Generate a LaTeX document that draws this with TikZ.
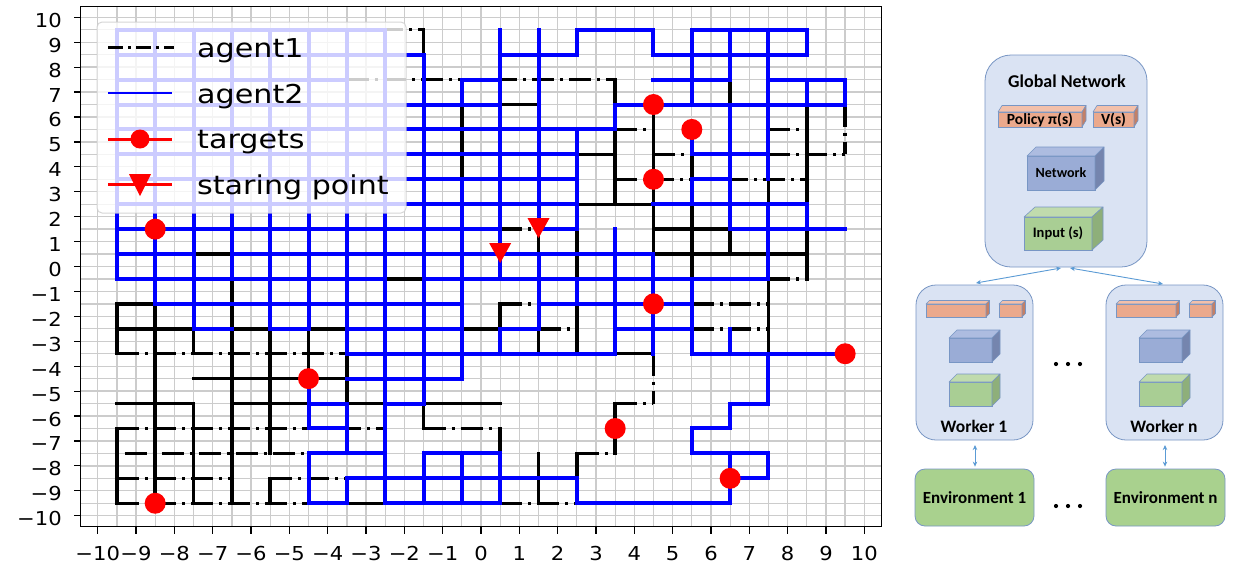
\documentclass[tikz,border=0pt]{standalone}
\usepackage{fontspec}
\setmainfont{Carlito}
\newfontfamily\plotfont{DejaVu Sans}[FakeStretch=1.1]
\newfontfamily\legfont{DejaVu Sans}[FakeStretch=1.16]
\usetikzlibrary{arrows.meta}
\definecolor{gridc}{RGB}{204,204,204}
\definecolor{ablue}{RGB}{0,0,255}
\definecolor{pfill}{RGB}{218,227,243}
\definecolor{pdraw}{RGB}{120,150,196}
\definecolor{salf}{RGB}{235,169,140}
\definecolor{sals}{RGB}{196,128,102}
\definecolor{salt}{RGB}{243,192,170}
\definecolor{cubf}{RGB}{154,172,214}
\definecolor{cubs}{RGB}{117,133,174}
\definecolor{cubt}{RGB}{173,188,224}
\definecolor{grnf}{RGB}{169,206,148}
\definecolor{grns}{RGB}{142,175,122}
\definecolor{grnt}{RGB}{192,219,173}
\definecolor{envf}{RGB}{169,209,142}
\definecolor{arrc}{RGB}{91,155,213}
\newcommand\tlab[1]{\ifnum#1<0 −\number\numexpr 0-(#1)\relax\else#1\fi}
\tikzset{
  a1/.style={draw=black, line width=3.4pt, line cap=rect, line join=miter},
  a1d/.style={draw=black, line width=3.4pt, line cap=butt, dash pattern=on 22pt off 6pt on 3pt off 6pt},
  a2/.style={draw=ablue, line width=4pt, line cap=rect, line join=miter},
  gridl/.style={draw=gridc, line width=1.3pt},
  tick/.style={draw=black, line width=1.2pt},
  ticklab/.style={font=\plotfont\fontsize{19.2}{22}\selectfont, inner sep=0pt},
  legtext/.style={font=\legfont\fontsize{26}{30}\selectfont, inner sep=0pt, anchor=base west},
  panel/.style={draw=pdraw, fill=pfill, line width=0.8pt, inner sep=0pt, outer sep=0pt},
  cubeface/.style={draw=pdraw, line width=0.6pt, inner sep=0pt, outer sep=0pt},
  cubeedge/.style={draw=pdraw, line width=0.6pt, line join=round},
  boxtext/.style={font=\bfseries\fontsize{14}{16}\selectfont, inner sep=0pt},
  arr/.style={draw=arrc, line width=0.9pt, {Stealth[length=5pt,width=4.5pt]}-{Stealth[length=5pt,width=4.5pt]}},
}
\newcommand\mycube[8]{%
  \node[cubeface, fill=#6, minimum width=#3pt, minimum height=#4pt] (#1) at (#2) {};
  \draw[cubeedge, fill=#7] (#1.north west) -- ++(#5) -- ([shift={(#5)}]#1.north east) -- (#1.north east) -- cycle;
  \draw[cubeedge, fill=#8] (#1.north east) -- ++(#5) -- ([shift={(#5)}]#1.south east) -- (#1.south east) -- cycle;
}
\begin{document}
\begin{tikzpicture}[x=1pt,y=-1pt]
\useasboundingbox (0,0) rectangle (1238,566);
\fill[white] (0,0) rectangle (1238,566);
% ---------------- plot ----------------
\begin{scope}[shift={(481,266.5)}, x=38.33pt, y=24.92pt]
  \foreach \g in {-10,-9.5,...,10.1}{
    \draw[gridl] (\g,-10.45) -- (\g,10.45);
    \draw[gridl] (-10.45,\g) -- (10.45,\g);
  }
  % agent1 solid parts
  \draw[a1]
   (-9.5,-1.5)--(-9.5,-3.5) (-9.5,-6.5)--(-9.5,-9.5)
   (-8.5,-1.5)--(-8.5,-9.5)
   (-7.5,-2.5)--(-7.5,-3.5) (-7.5,-5.5)--(-7.5,-9.5)
   (-6.5,-0.5)--(-6.5,-9.5)
   (-5.5,-2.5)--(-5.5,-7.5) (-5.5,-8.5)--(-5.5,-9.5)
   (-4.5,-2.5)--(-4.5,-4.5)
   (-3.5,7.5)--(-3.5,4.5) (-3.5,-3.5)--(-3.5,-5.5)
   (-2.5,0.5)--(-2.5,-0.5)
   (-1.5,9.5)--(-1.5,8.5) (-1.5,-5.5)--(-1.5,-6.5)
   (-0.5,6.5)--(-0.5,3.5)
   (0.5,-1.5)--(0.5,-3.5) (0.5,-6.5)--(0.5,-7.5)
   (1.5,1.5)--(1.5,0.5) (1.5,-2.5)--(1.5,-3.5) (1.5,-7.5)--(1.5,-9.5)
   (2.5,1.5)--(2.5,-0.5) (2.5,-1.5)--(2.5,-3.5) (2.5,-7.5)--(2.5,-9.5)
   (3.5,7.5)--(3.5,6.5) (3.5,5.5)--(3.5,2.5) (3.5,-5.5)--(3.5,-7.5)
   (4.5,6.5)--(4.5,-1.5)
   (5.5,4.5)--(5.5,-0.5)
   (6.5,7.5)--(6.5,6.5) (6.5,1.5)--(6.5,0.5)
   (7.5,3.5)--(7.5,2.5) (7.5,-0.5)--(7.5,-3.5)
   (8.5,6.5)--(8.5,-0.5)
   (0.5,6.5)--(1.5,6.5)
   (2.5,4.5)--(3.5,4.5)
   (2.5,2.5)--(4.5,2.5)
   (4.5,1.5)--(8.5,1.5)
   (-7.5,0.5)--(-6.5,0.5) (4.5,0.5)--(8.5,0.5)
   (-2.5,-0.5)--(-1.5,-0.5)
   (-9.5,-1.5)--(-8.5,-1.5)
   (-9.5,-2.5)--(-3.5,-2.5) (-0.5,-2.5)--(0.5,-2.5)
   (3.5,-3.5)--(4.5,-3.5)
   (-7.5,-4.5)--(-3.5,-4.5)
   (-9.5,-5.5)--(-7.5,-5.5) (-6.5,-5.5)--(-4.5,-5.5) (-3.5,-5.5)--(-2.5,-5.5) (-1.5,-5.5)--(0.5,-5.5)
   (-3.5,-9.5)--(-2.5,-9.5);
  % agent1 dash-dot parts
  \draw[a1d]
   (4.5,-3.5)--(4.5,-5.5) (9.5,6.5)--(9.5,4.5)
   (-2.6,9.5)--(-1.5,9.5)
   (-3.5,7.5)--(3.5,7.5)
   (3.5,5.5)--(4.5,5.5) (7.5,5.5)--(8.5,5.5)
   (4.5,4.5)--(5.5,4.5) (7.5,4.5)--(9.5,4.5)
   (3.5,3.5)--(8.5,3.5)
   (0.5,1.5)--(1.5,1.5)
   (7.5,-0.5)--(8.5,-0.5)
   (0.5,-1.5)--(1.5,-1.5) (5.5,-1.5)--(7.5,-1.5)
   (1.5,-2.5)--(2.5,-2.5) (5.5,-2.5)--(7.5,-2.5)
   (-9.5,-3.5)--(-3.5,-3.5)
   (3.5,-5.5)--(4.5,-5.5)
   (-9.5,-6.5)--(-2.5,-6.5) (-1.5,-6.5)--(0.5,-6.5)
   (-9.3,-7.5)--(-4.5,-7.5) (2.5,-7.5)--(3.5,-7.5)
   (-9.5,-8.5)--(-6.5,-8.5) (-5.5,-8.5)--(-3.5,-8.5)
   (-9.5,-9.5)--(-4.5,-9.5) (0.5,-9.5)--(2.5,-9.5);
  % agent2
  \draw[a2]
   (-9.5,9.5)--(-9.5,-0.5) (-8.5,9.5)--(-8.5,-1.5) (-7.5,9.5)--(-7.5,-2.5) (-6.5,9.5)--(-6.5,-0.5)
   (-5.5,9.5)--(-5.5,-2.5) (-4.5,9.5)--(-4.5,-2.5) (-4.5,-4.5)--(-4.5,-6.5) (-4.5,-7.5)--(-4.5,-9.5)
   (-3.5,9.5)--(-3.5,-3.5) (-3.5,-5.5)--(-3.5,-7.5) (-3.5,-8.5)--(-3.5,-9.5)
   (-2.5,9.5)--(-2.5,-9.5)
   (-1.5,8.5)--(-1.5,-5.5) (-1.5,-7.5)--(-1.5,-9.5)
   (-0.5,7.5)--(-0.5,6.5) (-0.5,3.5)--(-0.5,-4.5) (-0.5,-7.5)--(-0.5,-9.5)
   (0.5,9.5)--(0.5,-0.5) (0.5,-2.5)--(0.5,-3.5) (0.5,-7.5)--(0.5,-9.5)
   (1.5,9.5)--(1.5,1.5) (1.5,0.5)--(1.5,-2.5)
   (2.5,9.5)--(2.5,8.5) (2.5,5.5)--(2.5,1.5) (2.5,-0.5)--(2.5,-1.5) (2.5,-8.5)--(2.5,-9.5)
   (3.5,6.5)--(3.5,5.5) (3.5,1.5)--(3.5,-3.5)
   (4.5,9.5)--(4.5,8.5) (4.5,0.5)--(4.5,-3.5)
   (5.5,9.5)--(5.5,6.5) (5.5,5.5)--(5.5,4.5) (5.5,3.5)--(5.5,2.5) (5.5,-0.5)--(5.5,-3.5) (5.5,-6.5)--(5.5,-7.5)
   (6.5,9.5)--(6.5,7.5) (6.5,6.5)--(6.5,1.5) (6.5,-2.5)--(6.5,-3.5) (6.5,-5.5)--(6.5,-6.5) (6.5,-7.5)--(6.5,-9.5)
   (7.5,9.5)--(7.5,3.5) (7.5,2.5)--(7.5,-0.5) (7.5,-3.5)--(7.5,-5.5) (7.5,-7.5)--(7.5,-8.5)
   (8.5,9.5)--(8.5,8.5) (8.5,7.5)--(8.5,6.5) (8.5,2.5)--(8.5,1.5)
   (9.5,7.5)--(9.5,6.5)
   (-9.5,9.5)--(-2.5,9.5) (2.5,9.5)--(4.5,9.5) (5.5,9.5)--(8.5,9.5)
   (-9.5,8.5)--(-1.5,8.5) (0.5,8.5)--(2.5,8.5) (4.5,8.5)--(8.5,8.5)
   (-9.5,7.5)--(-3.5,7.5) (-0.5,7.5)--(0.5,7.5) (4.5,7.5)--(6.5,7.5) (7.5,7.5)--(9.5,7.5)
   (-9.5,6.5)--(0.5,6.5) (3.5,6.5)--(9.5,6.5)
   (-9.5,5.5)--(3.5,5.5)
   (-9.5,4.5)--(2.5,4.5) (5.5,4.5)--(7.5,4.5)
   (-9.5,3.5)--(2.5,3.5) (5.5,3.5)--(6.5,3.5)
   (-9.5,2.5)--(2.5,2.5) (4.5,2.5)--(8.5,2.5)
   (-9.5,1.5)--(0.5,1.5) (1.5,1.5)--(2.5,1.5) (6.5,1.5)--(9.5,1.5)
   (-9.5,0.5)--(-7.5,0.5) (-6.5,0.5)--(4.5,0.5)
   (-9.5,-0.5)--(-2.5,-0.5) (-1.5,-0.5)--(7.5,-0.5)
   (-8.5,-1.5)--(-0.5,-1.5) (1.5,-1.5)--(5.5,-1.5)
   (-7.5,-2.5)--(-6.5,-2.5) (-5.5,-2.5)--(-4.5,-2.5) (-3.5,-2.5)--(-0.5,-2.5) (0.5,-2.5)--(1.5,-2.5) (3.5,-2.5)--(5.5,-2.5)
   (-3.5,-3.5)--(3.5,-3.5) (5.5,-3.5)--(9.5,-3.5)
   (-3.5,-4.5)--(-0.5,-4.5)
   (-4.5,-5.5)--(-3.5,-5.5) (-2.5,-5.5)--(-1.5,-5.5) (6.5,-5.5)--(7.5,-5.5)
   (-4.5,-6.5)--(-3.5,-6.5) (5.5,-6.5)--(6.5,-6.5)
   (-4.5,-7.5)--(-2.5,-7.5) (-1.5,-7.5)--(0.5,-7.5) (5.5,-7.5)--(7.5,-7.5)
   (-3.5,-8.5)--(2.5,-8.5) (6.5,-8.5)--(7.5,-8.5)
   (-4.5,-9.5)--(-3.5,-9.5) (-2.5,-9.5)--(0.5,-9.5) (2.5,-9.5)--(6.5,-9.5);
  % targets
  \foreach \tx/\ty in {-8.5/1.5, 4.5/6.5, 5.5/5.5, 4.5/3.5, 4.5/-1.5, 9.5/-3.5, -4.5/-4.5, 3.5/-6.5, 6.5/-8.5, -8.5/-9.5}
    \fill[red] (\tx,\ty) circle[radius=10.5pt];
  % starting points
  \foreach \sx/\sy in {0.5/0.5, 1.5/1.5}
    \fill[red, shift={(\sx,\sy)}] (-11pt,11pt) -- (11pt,11pt) -- (0pt,-9pt) -- cycle;
\end{scope}
% frame and ticks
\draw[line width=1.5pt] (80.7,6.7) rectangle (881.7,526.7);
\foreach \i in {-10,...,10}{
  \pgfmathsetmacro\px{481+38.33*\i}
  \pgfmathsetmacro\py{266.5-24.92*\i}
  \pgfmathsetmacro\pyl{\py+10}
  \pgfmathtruncatemacro\k{\i+10}
  \draw[tick] (\px,527) -- (\px,534);
  \draw[tick] (74,\py) -- (81,\py);
  \node[ticklab, anchor=base] (xl\k) at (\px,560) {\tlab{\i}};
  \node[ticklab, anchor=base east] (yl\k) at (62,\pyl) {\tlab{\i}};
}
% legend
\draw[draw=black!20, fill=white, fill opacity=0.8, draw opacity=0.8, rounded corners=5pt, line width=1pt] (97,22) rectangle (406,213);
\draw[black, line width=2.6pt, dash pattern=on 15pt off 5pt on 3pt off 5pt] (108,47.5) -- (174,47.5);
\draw[ablue, line width=2.2pt] (108,93) -- (172,93);
\draw[red, line width=3pt] (108,139) -- (172,139);
\fill[red] (140,139) circle[radius=9.5pt];
\draw[red, line width=3pt] (108,184.5) -- (172,184.5);
\fill[red] (129,174) -- (151,174) -- (140,196) -- cycle;
\node[legtext] (leg1) at (197,57.5) {agent1};
\node[legtext] (leg2) at (197,103.5) {agent2};
\node[legtext] (leg3) at (197,148) {targets};
\node[legtext] (leg4) at (197,194) {staring point};
% ---------------- right diagram ----------------
\node[panel, rounded corners=26pt, minimum width=162pt, minimum height=212pt] (global) at (1066,161) {};
\node[font=\bfseries\fontsize{18}{20}\selectfont, inner sep=0pt] (gtitle) at (1067,81) {Global Network};
\mycube{gpol}{1040,119.5}{84}{15}{4,-6.5}{salf}{salt}{sals}
\mycube{gval}{1113.5,119.5}{41}{15}{4,-6.5}{salf}{salt}{sals}
\mycube{gnet}{1061,173}{68}{34}{9,-9}{cubf}{cubt}{cubs}
\mycube{ginp}{1058,233.5}{68}{33}{11,-10}{grnf}{grnt}{grns}
\node[boxtext, font=\bfseries\fontsize{15.5}{17}\selectfont] (gpolt) at (gpol) {Policy π(s)};
\node[boxtext, font=\bfseries\fontsize{15.5}{17}\selectfont] (gvalt) at (gval) {V(s)};
\node[boxtext] (gnett) at (gnet) {Network};
\node[boxtext, font=\bfseries\fontsize{14.5}{16}\selectfont] (ginpt) at (ginp) {Input (s)};
% worker 1
\node[panel, rounded corners=20pt, minimum width=117pt, minimum height=155pt] (w1) at (974.5,362.5) {};
\mycube{w1pol}{956,310.5}{60}{13}{3.5,-3.5}{salf}{salt}{sals}
\mycube{w1val}{1010.5,310.5}{23}{13}{3.5,-3.5}{salf}{salt}{sals}
\mycube{w1net}{970.5,350}{43}{24}{8,-8}{cubf}{cubt}{cubs}
\mycube{w1inp}{970.5,394}{43}{24}{8,-8}{grnf}{grnt}{grns}
\node[font=\bfseries\fontsize{17.5}{20}\selectfont, inner sep=0pt] (w1t) at (974,426) {Worker 1};
% worker n
\node[panel, rounded corners=20pt, minimum width=117pt, minimum height=155pt] (wn) at (1164.5,362.5) {};
\mycube{wnpol}{1146,310.5}{60}{13}{3.5,-3.5}{salf}{salt}{sals}
\mycube{wnval}{1200.5,310.5}{23}{13}{3.5,-3.5}{salf}{salt}{sals}
\mycube{wnnet}{1160.5,350}{43}{24}{8,-8}{cubf}{cubt}{cubs}
\mycube{wninp}{1160.5,394}{43}{24}{8,-8}{grnf}{grnt}{grns}
\node[font=\bfseries\fontsize{17.5}{20}\selectfont, inner sep=0pt] (wnt) at (1164,426) {Worker n};
% environments
\node[draw=pdraw, fill=envf, line width=0.8pt, rounded corners=10pt, minimum width=119pt, minimum height=57pt, inner sep=0pt, font=\bfseries\fontsize{17}{20}\selectfont] (e1) at (974.5,497.5) {Environment 1};
\node[draw=pdraw, fill=envf, line width=0.8pt, rounded corners=10pt, minimum width=119pt, minimum height=57pt, inner sep=0pt, font=\bfseries\fontsize{17}{20}\selectfont] (en) at (1165.5,497.5) {Environment n};
% arrows
\draw[arr] ([shift={(1.5,-2)}]w1.north) -- ([shift={(-5,1)}]global.south);
\draw[arr] ([shift={(-1.5,-1)}]wn.north) -- ([shift={(4,1)}]global.south);
\draw[arr] ([shift={(0.5,5)}]w1.south) -- ([shift={(0.5,-2)}]e1.north);
\draw[arr] ([shift={(0.5,5)}]wn.south) -- ([shift={(-0.5,-2)}]en.north);
% dots
\foreach \dx in {1056,1068,1080}{
  \fill (\dx,364) circle[radius=2.1pt];
  \fill (\dx,506) circle[radius=2.1pt];
}
\end{tikzpicture}
\end{document}
